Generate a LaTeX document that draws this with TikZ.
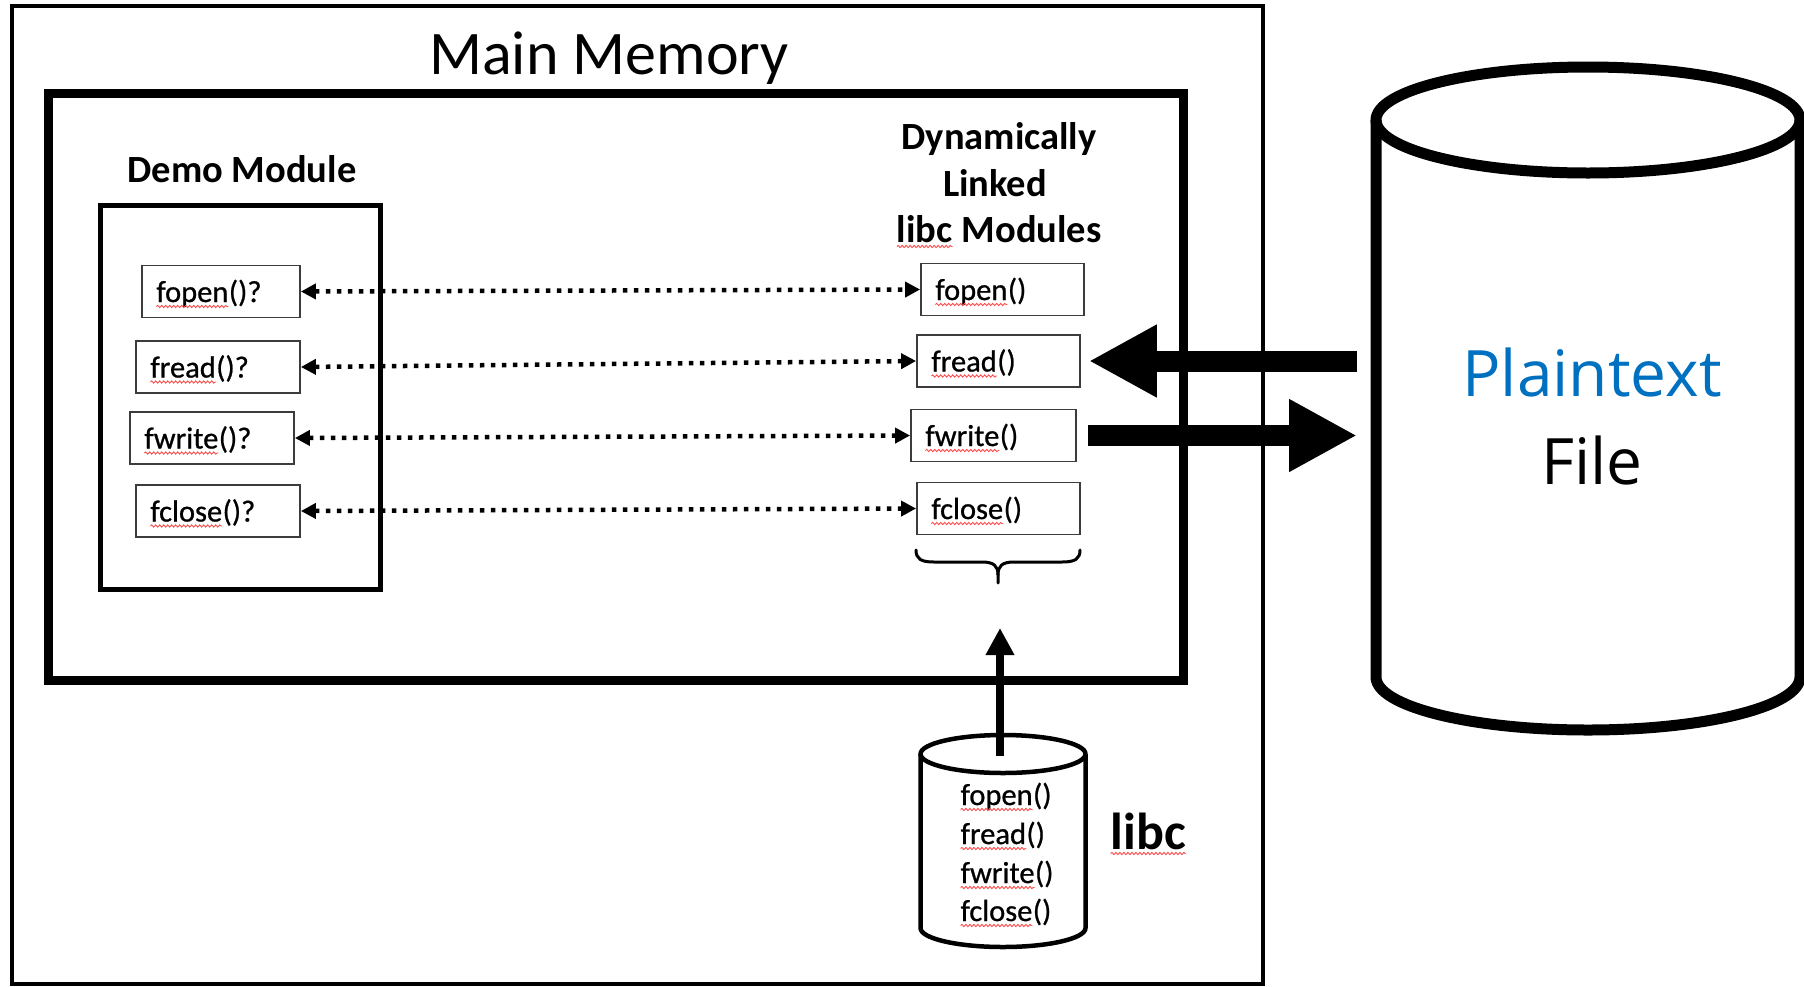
\documentclass[tikz,border=0pt]{standalone}
\usepackage{fontspec}
\setmainfont{Carlito}
\newfontfamily\segoefont{Open Sans}
\newfontfamily\fnfont[FakeBold=0.8]{Carlito}
\usetikzlibrary{arrows.meta,decorations.pathmorphing}
\definecolor{plainblue}{HTML}{0070C0}
\definecolor{boxgray}{HTML}{3C3C3C}
% red spell-check squiggle under a word
\newcommand\spellmark[1]{\tikz[baseline=(sw.base)]{%
  \node[inner sep=0pt, outer sep=0pt] (sw) {#1};
  \draw[red!70, line width=0.9pt, decorate, decoration={snake, amplitude=1.1pt, segment length=4pt}]
    ([yshift=-4.5pt]sw.base west) -- ([yshift=-4.5pt]sw.base east);}}
\newcommand\fnsize{\fnfont\fontsize{30.5}{37}\selectfont}
\newcommand\headsize{\bfseries\fontsize{38.5}{46}\selectfont}

\begin{document}
\begin{tikzpicture}[x=1pt,y=-1pt,
  fnbox/.style={draw=boxgray, line width=1.8pt, rectangle, inner xsep=14pt, inner ysep=0pt,
    minimum height=52pt, text height=26pt, text depth=5pt, align=left, font=\fnsize},
  dotarrow/.style={{Triangle[length=15pt,width=15pt]}-{Triangle[length=15pt,width=15pt]},
    line width=4.5pt, dash pattern=on 4.5pt off 6.5pt},
  bigarrow/.style={line width=21pt, -{Triangle[length=68pt,width=68pt]}},
  uparrow/.style={line width=8pt, -{Triangle[length=27pt,width=27pt]}},
  frame/.style={draw, rectangle, inner sep=0pt, outer sep=0pt},
  cyl/.style={line width=4.5pt, line join=round},
  bigcyl/.style={line width=11pt, line join=round},
  libcitem/.style={anchor=base west, font=\fnsize, inner sep=0pt}
]
\useasboundingbox[fill=white] (0,0) rectangle (1804,986);

% main memory and the loaded process image
\node[frame, line width=4pt, minimum width=1251pt, minimum height=978pt] (mainmem) at (637.5,495) {};
\node[frame, line width=9pt, minimum width=1135pt, minimum height=587pt] (proc) at (615.5,386.5) {};
\node[frame, line width=5pt, minimum width=280pt, minimum height=384pt] (demo) at (240.5,397.5) {};

\node[anchor=base, font=\fontsize{62}{74}\selectfont] (mmtitle) at (609,74) {Main Memory};
\node[anchor=base, font=\headsize] (demotitle) at (242,182) {Demo Module};
\node[anchor=base, font=\headsize] (dl1) at (999,149) {Dynamically};
\node[anchor=base, font=\headsize] (dl2) at (995,196) {Linked};
\node[anchor=base, font=\headsize] (dl3) at (999,242) {\spellmark{libc} Modules};

% unresolved calls in the demo module
\node[fnbox, text width=130pt] (L1) at (221,291.5) {\spellmark{fopen}()?};
\node[fnbox, text width=136pt] (L2) at (218,367) {\spellmark{fread}()?};
\node[fnbox, text width=136pt] (L3) at (212,438) {\spellmark{fwrite}()?};
\node[fnbox, text width=136pt] (L4) at (218,511) {\spellmark{fclose}()?};

% linked libc functions
\node[fnbox, text width=135pt] (R1) at (1002.5,289.5) {\spellmark{fopen}()};
\node[fnbox, text width=135pt] (R2) at (998.5,361) {\spellmark{fread}()};
\node[fnbox, text width=137pt] (R3) at (993.5,435.5) {\spellmark{fwrite}()};
\node[fnbox, text width=135pt] (R4) at (998.5,508.5) {\spellmark{fclose}()};

\draw[dotarrow] (L1.east) -- (R1.west);
\draw[dotarrow] (L2.east) -- (R2.west);
\draw[dotarrow] (L3.east) -- (R3.west);
\draw[dotarrow] (L4.east) -- (R4.west);

% brace under the linked functions
\coordinate (bracetip) at (998,583);
\draw[line width=3pt, line cap=round]
  (916,550) .. controls (916,559) and (921,562) .. (934,562) -- (982,562)
  .. controls (994,562) and (998,566) .. (998,575) -- (bracetip);
\draw[line width=3pt, line cap=round]
  (1080,550) .. controls (1080,559) and (1075,562) .. (1062,562) -- (1014,562)
  .. controls (1002,562) and (998,566) .. (998,575);

% libc on disk
\draw[cyl, fill=white] (1003,754) ellipse [x radius=82.5pt, y radius=19pt];
\draw[cyl] (920.5,754) -- (920.5,928) .. controls (920.5,938.5) and (957.4,947) .. (1003,947)
  .. controls (1048.6,947) and (1085.5,938.5) .. (1085.5,928) -- (1085.5,754);
\coordinate (libctop) at (1000,756);
\node[libcitem] (c1) at (960,805) {\spellmark{fopen}()};
\node[libcitem] (c2) at (960,844) {\spellmark{fread}()};
\node[libcitem] (c3) at (960,883) {\spellmark{fwrite}()};
\node[libcitem] (c4) at (960,921) {\spellmark{fclose}()};
\node[anchor=base west, inner sep=0pt, font=\bfseries\fontsize{52}{62}\selectfont] (libclabel) at (1110,849) {\spellmark{libc}};
\draw[uparrow, shorten >=45pt] (libctop) -- (libctop |- bracetip);

% plaintext file on disk
\draw[bigcyl] (1588,120) ellipse [x radius=212pt, y radius=53pt];
\draw[bigcyl] (1376,120) -- (1376,677) .. controls (1376,706.3) and (1470.9,730) .. (1588,730)
  .. controls (1705.1,730) and (1800,706.3) .. (1800,677) -- (1800,120);
\node[minimum width=424pt, minimum height=557pt, inner sep=0pt, outer sep=0pt] (file) at (1588,398.5) {};
\node[anchor=base, font=\segoefont\fontsize{64}{77}\selectfont, text=plainblue] (plaintxt) at (1592,396) {Plaintext};
\node[anchor=base, font=\segoefont\fontsize{64}{77}\selectfont] (filetxt) at (1592,484) {File};

% data flow between file and the linked functions
\draw[bigarrow, shorten <=19pt, shorten >=8pt] (file.west |- R2.east) -- (R2.east);
\draw[bigarrow, shorten <=11pt, shorten >=19pt] (R3.east) -- (file.west |- R3.east);
\end{tikzpicture}
\end{document}
